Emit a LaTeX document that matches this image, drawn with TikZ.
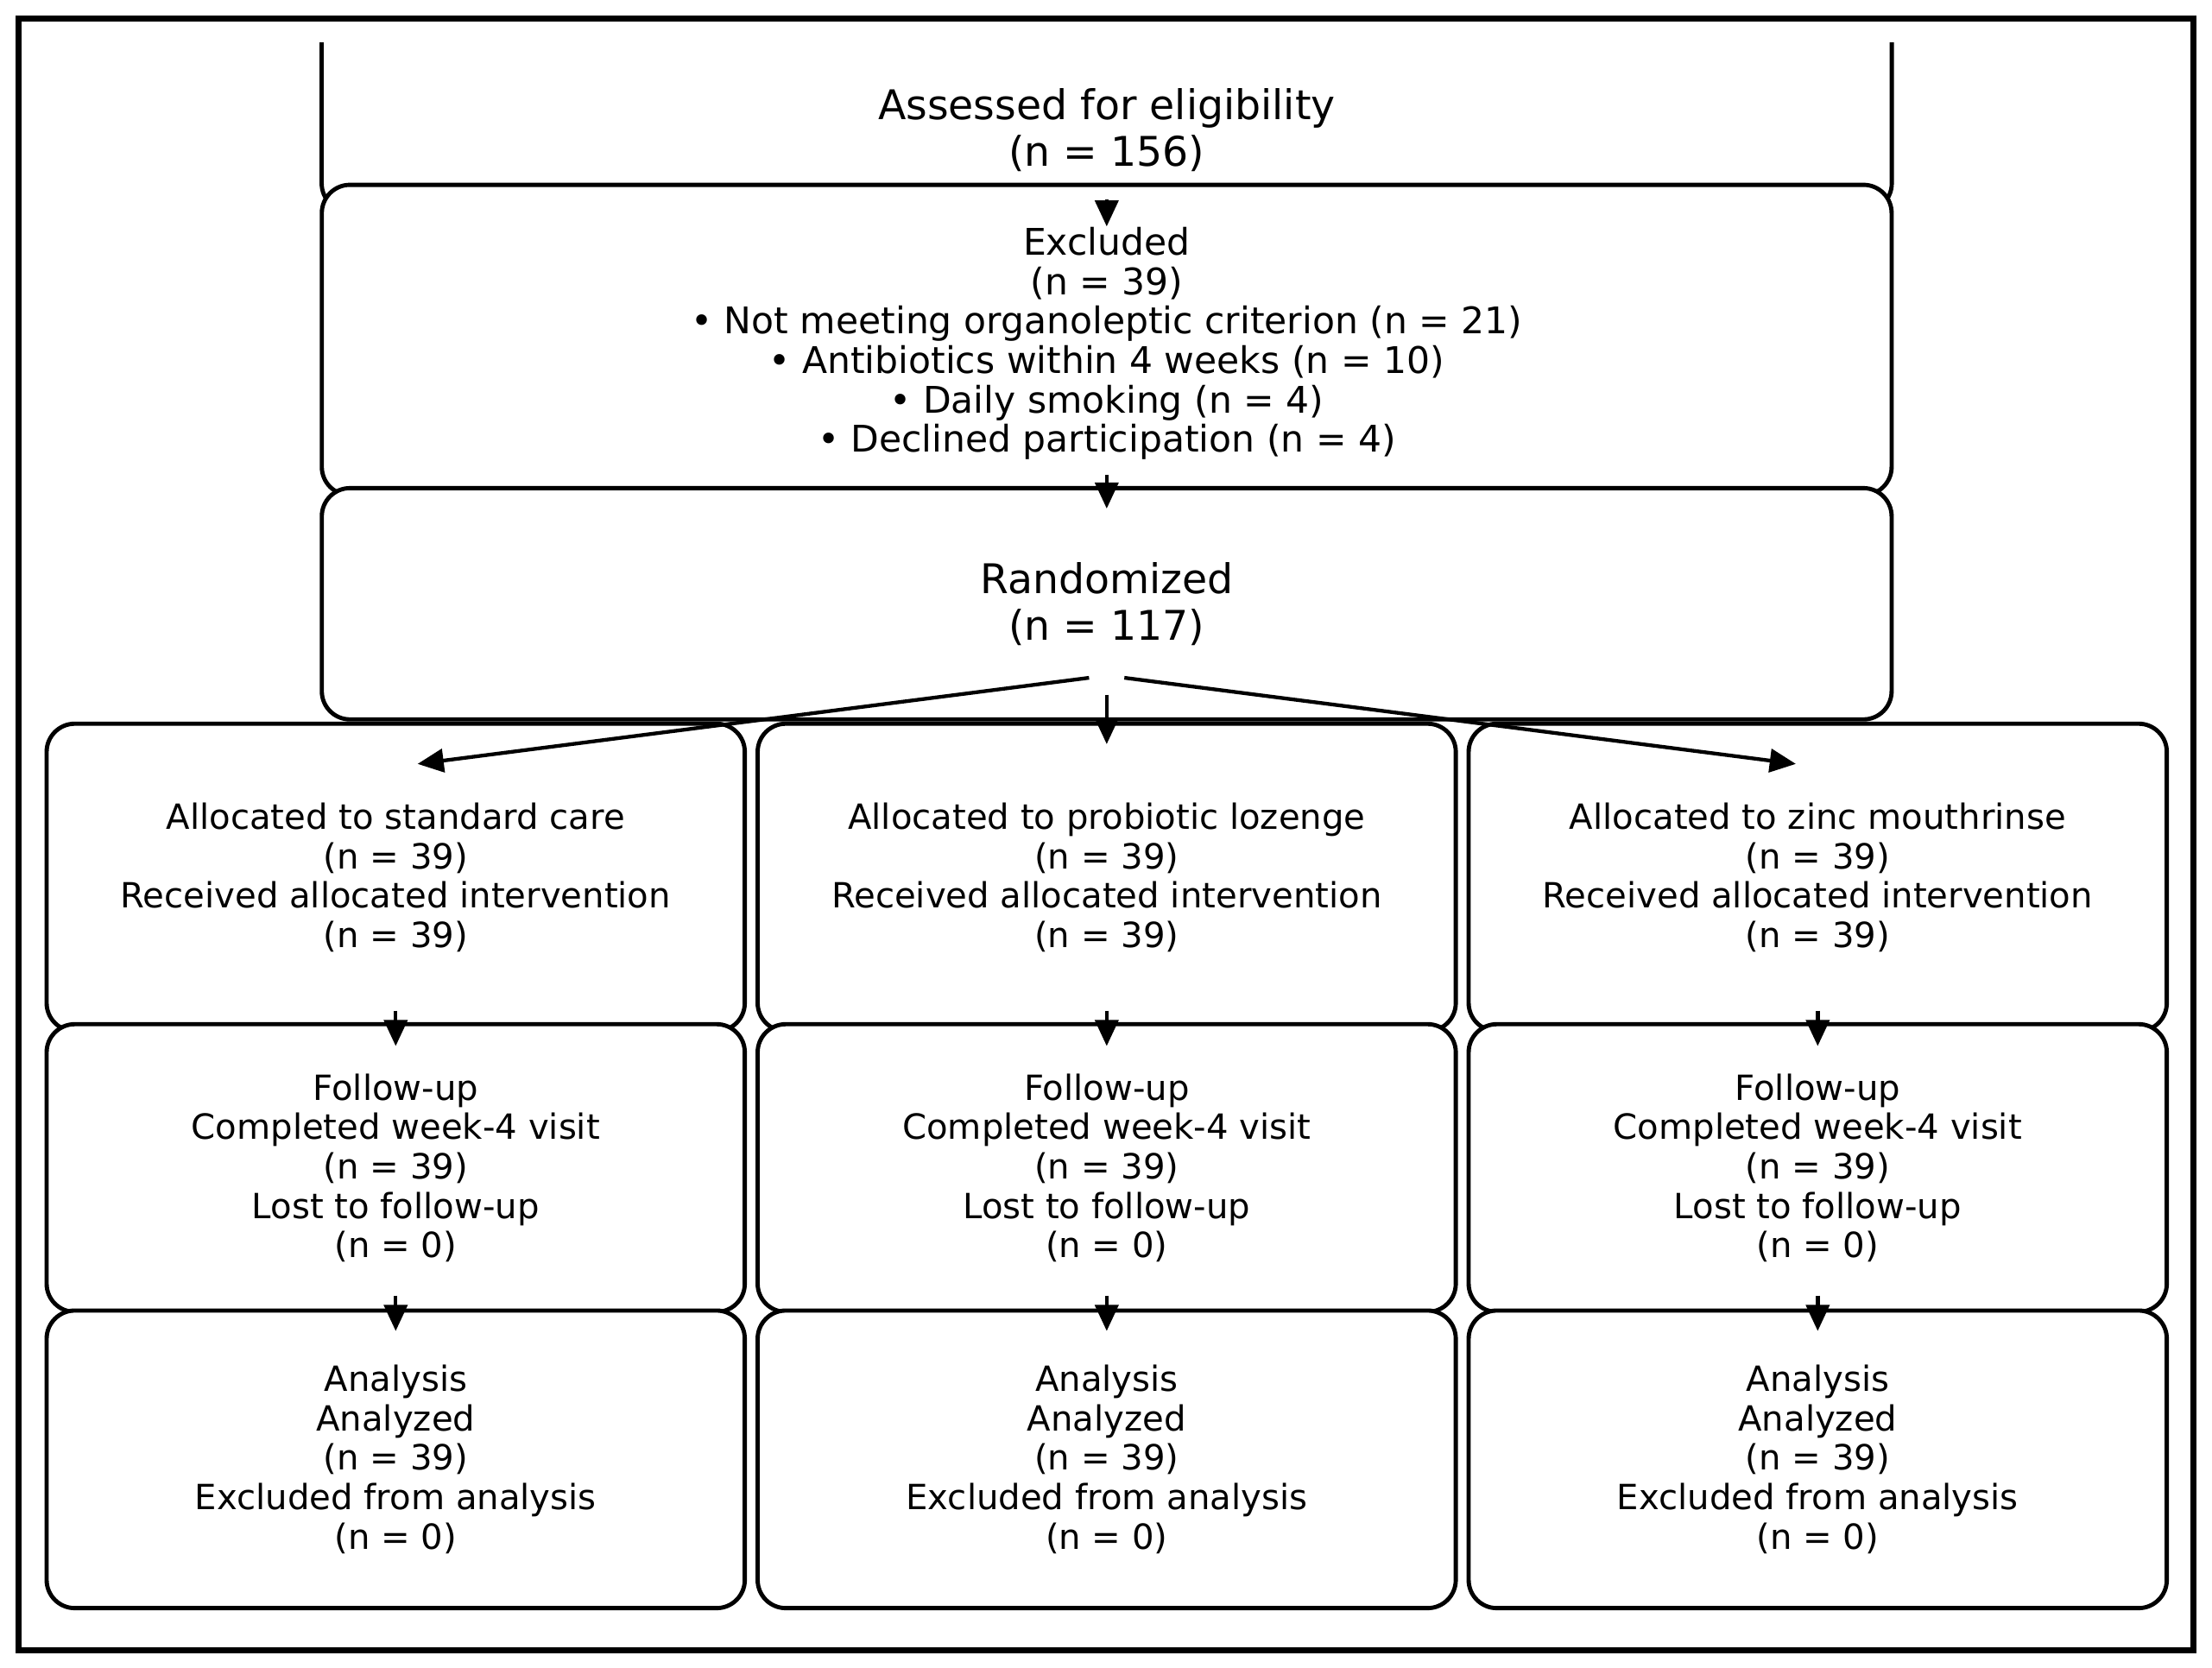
\documentclass[tikz,border=0pt]{standalone}
\usepackage{fontspec}
\setmainfont{DejaVu Sans}
\usetikzlibrary{arrows.meta,calc}
\begin{document}
\begin{tikzpicture}[x=0.02cm,y=-0.02cm,
  boxline/.style={line width=1.7pt, rounded corners=0.4cm, fill=white},
  flowbox/.style={draw, boxline, rectangle, align=center, inner sep=0pt,
    font=\fontsize{14}{15.9}\selectfont},
  wide/.style={minimum width=22.26cm},
  col/.style={minimum width=9.9cm},
  plaintext/.style={align=center, inner sep=0pt},
  bigtext/.style={plaintext, font=\fontsize{16.5}{18.7}\selectfont},
  arr/.style={line width=1.5pt, -{Triangle[length=0.37cm,width=0.33cm]}}]
\useasboundingbox (0,0) rectangle (1568,1182);
\draw[line width=2.3pt] (13,13) rectangle (1555,1170);
% assessed box (top clipped)
\path[draw, boxline] (228,30) -- (228,150) -- (1341,150) -- (1341,30);
\node[bigtext] (assess) at (784.5,92) {Assessed for eligibility\\(n = 156)};
% excluded
\node[flowbox, wide, minimum height=4.4cm] (excl) at (784.5,241) {};
\node[plaintext, font=\fontsize{14.8}{15.9}\selectfont] (excltext) at (784.5,243.5)
  {Excluded\\(n = 39)\\• Not meeting organoleptic criterion (n = 21)\\• Antibiotics within 4 weeks (n = 10)\\• Daily smoking (n = 4)\\• Declined participation (n = 4)};
% randomized
\node[flowbox, wide, minimum height=3.28cm, font=\fontsize{16.5}{18.7}\selectfont] (rand) at (784.5,428)
  {Randomized\\(n = 117)};
% allocation
\node[flowbox, col, minimum height=4.36cm] (al1) at (280.5,622)
  {Allocated to standard care\\(n = 39)\\Received allocated intervention\\(n = 39)};
\node[flowbox, col, minimum height=4.36cm] (al2) at (784.5,622)
  {Allocated to probiotic lozenge\\(n = 39)\\Received allocated intervention\\(n = 39)};
\node[flowbox, col, minimum height=4.36cm] (al3) at (1288.5,622)
  {Allocated to zinc mouthrinse\\(n = 39)\\Received allocated intervention\\(n = 39)};
% follow-up
\node[flowbox, col, minimum height=4.08cm] (fu1) at (280.5,828)
  {Follow-up\\Completed week-4 visit\\(n = 39)\\Lost to follow-up\\(n = 0)};
\node[flowbox, col, minimum height=4.08cm] (fu2) at (784.5,828)
  {Follow-up\\Completed week-4 visit\\(n = 39)\\Lost to follow-up\\(n = 0)};
\node[flowbox, col, minimum height=4.08cm] (fu3) at (1288.5,828)
  {Follow-up\\Completed week-4 visit\\(n = 39)\\Lost to follow-up\\(n = 0)};
% analysis
\node[flowbox, col, minimum height=4.22cm] (an1) at (280.5,1034.5)
  {Analysis\\Analyzed\\(n = 39)\\Excluded from analysis\\(n = 0)};
\node[flowbox, col, minimum height=4.22cm] (an2) at (784.5,1034.5)
  {Analysis\\Analyzed\\(n = 39)\\Excluded from analysis\\(n = 0)};
\node[flowbox, col, minimum height=4.22cm] (an3) at (1288.5,1034.5)
  {Analysis\\Analyzed\\(n = 39)\\Excluded from analysis\\(n = 0)};
% arrows
\draw[arr] ($(excl.north)+(0,12)$) -- ($(excl.north)+(0,31)$);
\draw[arr] ($(excl.south)+(0,-16)$) -- ($(rand.north)+(0,16)$);
\draw[arr] ($(rand.south)+(-12.5,-31)$) -- ($(al1.north)+(15.5,30)$);
\draw[arr] ($(rand.south)+(0,-19)$) -- ($(al2.north)+(0,16)$);
\draw[arr] ($(rand.south)+(12.5,-31)$) -- ($(al3.north)+(-15.5,30)$);
\foreach \i in {1,2,3}{
  \draw[arr] ($(al\i.south)+(0,-16)$) -- ($(fu\i.north)+(0,17)$);
  \draw[arr] ($(fu\i.south)+(0,-13)$) -- ($(an\i.north)+(0,16)$);
}
\end{tikzpicture}
\end{document}
